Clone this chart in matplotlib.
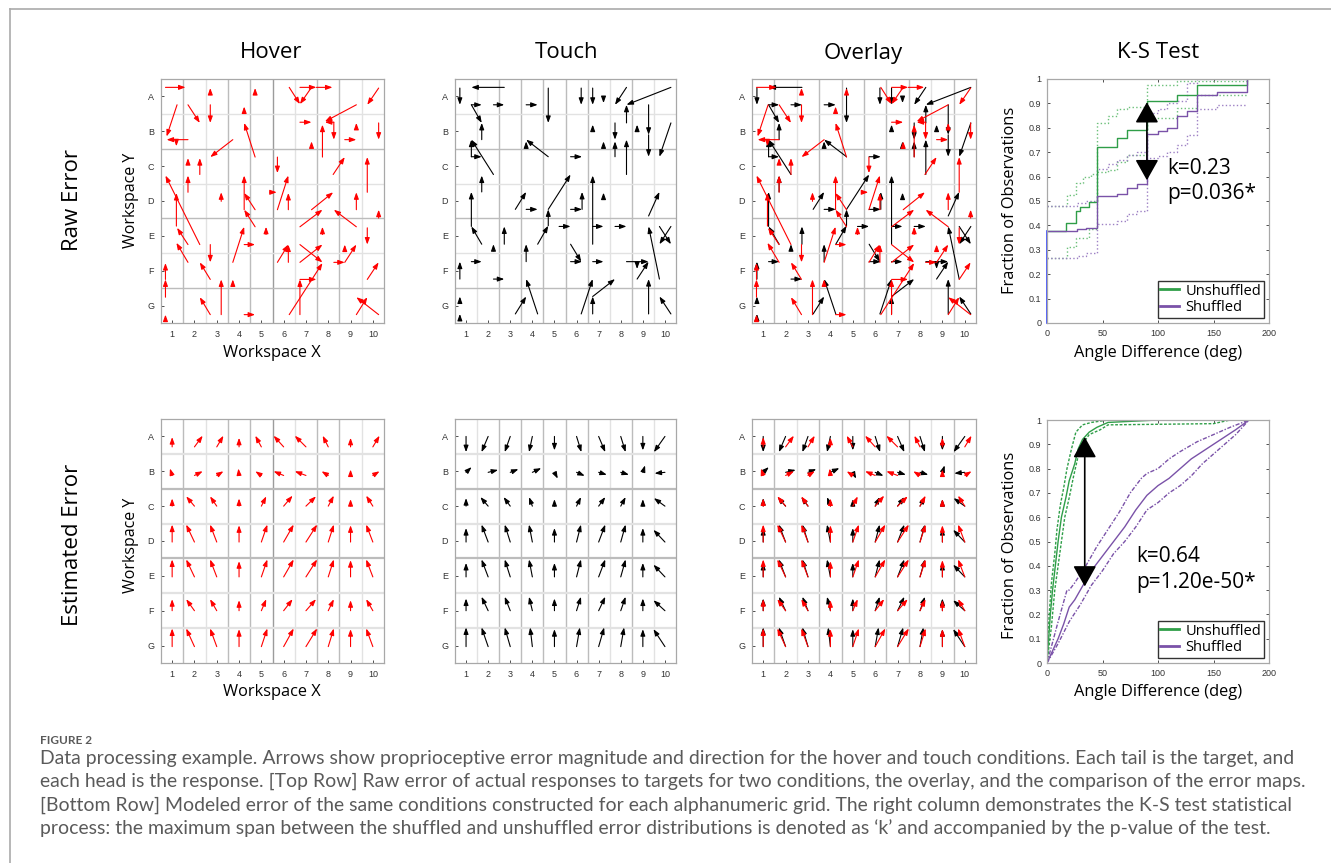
import matplotlib
matplotlib.use('Agg')
import matplotlib.pyplot as plt
from matplotlib import font_manager

# ---------------- data ----------------
cols = list(range(1, 11))
rows = ['A', 'B', 'C', 'D', 'E', 'F', 'G']

# raw error arrows (tail x, tail y, head x, head y), y = row index (A=1 ... G=7)
hover_raw = [
    (0.70, 0.74, 1.60, 0.74), (2.71, 0.95, 2.71, 0.76), (4.72, 0.95, 4.72, 0.76),
    (6.25, 0.74, 6.73, 1.22), (7.25, 0.74, 6.73, 1.22), (6.73, 0.74, 7.47, 0.74),
    (7.47, 0.74, 8.19, 0.74), (10.26, 0.76, 9.75, 1.24), (1.22, 1.24, 0.75, 2.15),
    (1.71, 2.24, 0.75, 2.24), (1.19, 2.24, 1.19, 2.43), (1.71, 1.24, 2.24, 1.76),
    (2.71, 1.24, 2.71, 1.76), (4.23, 1.43, 4.23, 1.29), (4.72, 2.74, 4.23, 1.76),
    (6.73, 1.74, 7.25, 1.74), (9.26, 1.24, 7.85, 1.72), (7.74, 2.74, 7.74, 1.81),
    (8.25, 1.74, 7.85, 1.74), (8.25, 1.74, 8.25, 2.24), (9.26, 1.91, 9.26, 1.76),
    (10.26, 1.76, 10.26, 2.24), (8.74, 2.24, 9.26, 2.24), (7.25, 2.43, 7.25, 2.29),
    (3.72, 2.24, 2.71, 2.74), (1.71, 2.91, 1.71, 2.77), (2.24, 3.24, 2.24, 2.77),
    (5.72, 2.74, 5.72, 3.20), (8.22, 3.24, 8.74, 2.74), (9.75, 3.75, 9.75, 2.74),
    (2.24, 5.25, 0.70, 3.27), (1.71, 3.75, 1.71, 3.27), (1.19, 4.72, 1.19, 3.77),
    (1.71, 5.25, 1.22, 4.77), (3.20, 4.01, 3.20, 3.75), (4.23, 4.25, 4.23, 3.27),
    (4.72, 4.25, 4.23, 3.77), (4.72, 4.74, 4.23, 4.25), (5.39, 3.75, 5.69, 3.75),
    (5.72, 4.25, 6.21, 3.27), (6.21, 4.25, 6.21, 3.77), (7.25, 4.25, 8.22, 3.75),
    (9.26, 4.25, 9.26, 3.75), (10.26, 4.49, 10.26, 4.25), (6.73, 4.74, 7.74, 4.25),
    (9.26, 4.74, 8.25, 4.25), (5.21, 4.96, 5.21, 4.74), (7.74, 4.96, 7.74, 4.74),
    (9.75, 4.77, 9.75, 5.25), (3.72, 5.76, 4.23, 4.74), (4.23, 5.25, 4.72, 5.25),
    (1.71, 5.76, 1.19, 5.20), (2.71, 5.25, 2.71, 5.76), (5.72, 5.76, 6.21, 5.25),
    (6.21, 5.76, 6.21, 5.25), (6.73, 5.76, 7.74, 5.25), (6.73, 5.25, 7.74, 5.76),
    (6.25, 7.26, 7.74, 5.78), (8.74, 5.44, 8.74, 5.25), (8.74, 5.76, 9.26, 5.25),
    (8.25, 5.76, 8.74, 5.76), (0.70, 6.76, 0.70, 6.25), (0.70, 6.25, 0.70, 5.78),
    (0.70, 7.40, 0.70, 7.26), (2.71, 6.25, 2.24, 5.76), (3.20, 7.26, 3.20, 6.25),
    (3.72, 6.44, 3.72, 6.25), (9.75, 6.25, 10.26, 5.76), (6.73, 7.26, 6.73, 6.25),
    (6.73, 6.25, 7.47, 6.25), (2.71, 7.26, 2.24, 6.76), (4.23, 7.26, 4.72, 7.26),
    (10.26, 7.26, 9.26, 6.76), (9.26, 7.26, 9.75, 6.76),
]
touch_raw = [
    (2.73, 0.74, 1.24, 0.74), (0.72, 0.76, 0.72, 1.24), (1.24, 1.24, 1.71, 1.24),
    (2.24, 1.24, 2.73, 1.24), (3.72, 1.24, 4.24, 1.24), (1.24, 1.24, 1.71, 1.76),
    (1.71, 2.24, 1.71, 1.76), (4.72, 0.76, 4.72, 1.76), (6.21, 0.76, 6.21, 1.24),
    (6.73, 0.76, 6.73, 1.24), (7.22, 1.05, 7.22, 1.19), (8.26, 0.74, 7.74, 1.24),
    (10.27, 0.74, 8.26, 1.24), (8.26, 1.76, 8.26, 1.24), (6.73, 1.95, 6.73, 1.81),
    (7.74, 1.76, 7.74, 2.24), (7.74, 2.73, 7.74, 2.29), (8.26, 3.24, 8.26, 2.24),
    (7.22, 2.43, 7.22, 2.29), (8.74, 2.00, 8.74, 1.81), (9.26, 1.24, 9.26, 2.10),
    (9.26, 2.10, 9.26, 2.73), (10.27, 1.76, 9.75, 2.73), (2.24, 3.24, 1.24, 2.24),
    (1.24, 2.73, 1.24, 2.24), (1.24, 2.73, 1.71, 2.73), (4.72, 2.73, 3.72, 2.24),
    (3.72, 2.43, 3.72, 2.29), (5.73, 2.73, 6.25, 2.73), (1.71, 3.74, 1.71, 3.27),
    (1.24, 4.73, 1.24, 3.74), (1.71, 5.24, 1.24, 4.73), (3.23, 4.24, 3.72, 3.74),
    (3.72, 4.24, 4.24, 4.24), (4.72, 4.24, 5.73, 3.24), (4.72, 4.71, 4.72, 4.24),
    (4.24, 5.24, 4.72, 4.71), (5.73, 4.24, 6.25, 4.24), (6.25, 4.24, 6.25, 3.74),
    (6.73, 5.24, 6.73, 3.27), (7.22, 3.95, 7.22, 3.76), (9.26, 4.43, 9.75, 3.74),
    (5.21, 4.73, 5.73, 4.73), (6.73, 4.73, 7.22, 4.73), (7.74, 4.73, 8.26, 4.73),
    (2.73, 5.24, 2.73, 4.73), (2.24, 5.43, 2.24, 5.24), (3.72, 5.74, 3.72, 5.24),
    (9.75, 6.24, 9.26, 4.73), (9.75, 4.73, 10.27, 5.24), (10.27, 4.73, 9.75, 5.24),
    (1.24, 5.74, 1.71, 5.74), (5.73, 5.24, 6.21, 5.74), (5.73, 5.74, 6.25, 5.74),
    (6.73, 5.74, 7.22, 5.74), (8.26, 5.74, 9.26, 5.74), (8.74, 5.74, 8.74, 5.95),
    (8.74, 6.24, 9.26, 5.74), (0.72, 6.24, 0.72, 5.74), (2.24, 6.24, 2.73, 6.24),
    (4.24, 7.24, 3.72, 6.24), (3.23, 7.24, 3.72, 6.74), (6.21, 7.24, 6.73, 6.24),
    (6.73, 7.24, 6.73, 6.74), (6.73, 6.74, 7.74, 6.24), (9.26, 7.24, 9.26, 6.24),
    (10.27, 7.24, 9.75, 6.74), (0.72, 6.90, 0.72, 6.74), (0.72, 7.43, 0.72, 7.24),
]

# estimated (modeled) error: per-cell displacement, rows A..G x cols 1..10
hover_off = [0.30, 0.12, 0.0, 0.03, 0.03, 0.0, 0.03]
hover_dx = [
    [0, .37, .30, 0, -.27, -.45, -.50, -.25, 0, .30],
    [-.10, .37, .30, -.03, -.27, -.45, -.50, -.30, 0, .30],
    [0, -.37, -.30, 0, .22, .40, .45, .25, 0, -.30],
    [0, -.37, -.30, 0, .27, .45, .50, .25, 0, -.30],
    [0, -.37, -.30, 0, .27, .45, .50, .25, 0, -.30],
    [0, -.37, -.30, 0, .22, .40, .45, .25, 0, -.30],
    [0, -.37, -.30, 0, .27, .45, .50, .25, 0, -.30],
]
hover_dy = [
    [-.28, -.32, -.32, -.26, -.32, -.32, -.32, -.32, -.26, -.32],
    [-.20, -.12, -.12, -.20, -.12, -.12, -.12, -.12, -.17, -.12],
    [-.22, -.28, -.28, -.22, -.28, -.30, -.28, -.30, -.20, -.30],
    [-.50, -.50, -.50, -.48, -.50, -.50, -.50, -.50, -.48, -.50],
    [-.50, -.50, -.50, -.45, -.50, -.50, -.50, -.50, -.48, -.50],
    [-.33, -.33, -.33, -.30, -.33, -.33, -.33, -.33, -.30, -.33],
    [-.52, -.52, -.52, -.50, -.52, -.52, -.52, -.52, -.50, -.52],
]
touch_off = [0.0, 0.03, 0.0, 0.03, 0.03, 0.0, 0.03]
touch_dx = [
    [0, -.30, -.25, -.15, 0, .22, .30, .22, 0, -.50],
    [.25, .45, .37, .40, .15, .37, .37, .37, .10, -.47],
    [0, -.35, -.30, -.15, 0, .20, .30, .22, 0, -.50],
    [0, -.30, -.25, -.15, 0, .20, .30, .22, 0, -.52],
    [0, -.30, -.25, -.15, 0, .20, .30, .22, 0, -.52],
    [0, -.30, -.25, -.15, 0, .20, .30, .22, 0, -.52],
    [0, -.30, -.25, -.10, 0, .15, .25, .15, 0, -.52],
]
touch_dy = [
    [.45, .45, .45, .45, .40, .45, .45, .45, .40, .45],
    [-.15, -.07, -.09, -.12, .18, .10, .07, .07, -.20, .03],
    [-.23, -.26, -.26, -.26, -.20, -.26, -.26, -.26, -.20, -.23],
    [-.40, -.50, -.50, -.50, -.40, -.50, -.50, -.50, -.40, -.35],
    [-.40, -.50, -.50, -.50, -.40, -.50, -.50, -.50, -.40, -.35],
    [-.35, -.40, -.40, -.40, -.35, -.40, -.40, -.40, -.35, -.30],
    [-.55, -.55, -.55, -.55, -.50, -.55, -.55, -.55, -.50, -.50],
]

# K-S test, raw error (step ECDFs)
ks1_g_x = [0, 17, 26, 30, 38, 45, 63, 72, 90, 117, 135, 180]
ks1_g_y = [0.375, 0.41, 0.46, 0.475, 0.495, 0.72, 0.76, 0.79, 0.91, 0.935, 0.975, 1.0]
ks1_gu_x = [0, 18, 26, 32, 40, 45, 55, 63, 72, 90, 117, 180]
ks1_gu_y = [0.48, 0.525, 0.575, 0.60, 0.61, 0.82, 0.85, 0.875, 0.885, 0.975, 0.99, 1.0]
ks1_gl_x = [0, 18, 26, 38, 45, 55, 63, 72, 90, 117, 135, 180]
ks1_gl_y = [0.265, 0.31, 0.35, 0.385, 0.62, 0.625, 0.66, 0.69, 0.84, 0.88, 0.935, 0.935]
ks1_p_x = [0, 27, 35, 45, 63, 72, 81, 90, 100, 108, 117, 126, 135, 153, 180]
ks1_p_y = [0.375, 0.385, 0.39, 0.52, 0.53, 0.555, 0.57, 0.775, 0.785, 0.80, 0.85, 0.87, 0.935, 0.945, 1.0]
ks1_pu_x = [0, 27, 35, 45, 55, 63, 72, 81, 90, 100, 108, 117, 126, 135, 180]
ks1_pu_y = [0.48, 0.49, 0.50, 0.63, 0.65, 0.67, 0.69, 0.70, 0.86, 0.875, 0.90, 0.91, 0.985, 1.0, 1.0]
ks1_pl_x = [0, 27, 35, 45, 63, 72, 81, 90, 100, 108, 117, 126, 135, 153, 180]
ks1_pl_y = [0.265, 0.275, 0.285, 0.405, 0.42, 0.445, 0.46, 0.675, 0.685, 0.70, 0.73, 0.77, 0.875, 0.895, 0.895]

# K-S test, estimated error
ks2_g_x = [0, 3, 5, 8, 10, 13, 17, 20, 25, 28, 32, 38, 45, 55, 100, 180]
ks2_g_y = [0, 0.2, 0.3, 0.42, 0.5, 0.6, 0.68, 0.75, 0.82, 0.88, 0.92, 0.95, 0.97, 0.99, 1.0, 1.0]
ks2_gu_x = [0, 2, 4, 7, 9, 12, 15, 18, 22, 26, 32, 40, 55, 180]
ks2_gu_y = [0.05, 0.2, 0.33, 0.45, 0.55, 0.65, 0.72, 0.8, 0.88, 0.95, 0.98, 0.99, 1.0, 1.0]
ks2_gl_x = [0, 4, 7, 10, 13, 16, 20, 24, 28, 32, 38, 48, 55, 150, 165, 180]
ks2_gl_y = [0, 0.15, 0.3, 0.4, 0.5, 0.6, 0.68, 0.77, 0.85, 0.9, 0.94, 0.96, 0.98, 0.985, 1.0, 1.0]
ks2_p_x = [0, 5, 10, 15, 20, 25, 30, 40, 50, 60, 70, 80, 90, 100, 110, 120, 130, 140, 150, 160, 170, 182]
ks2_p_y = [0, 0.05, 0.1, 0.16, 0.23, 0.26, 0.3, 0.38, 0.44, 0.5, 0.56, 0.63, 0.69, 0.73, 0.76, 0.8, 0.84, 0.87, 0.9, 0.93, 0.96, 1.0]
ks2_pu_x = [0, 10, 18, 20, 25, 35, 45, 55, 65, 75, 85, 90, 100, 110, 120, 135, 150, 165, 182]
ks2_pu_y = [0, 0.17, 0.3, 0.3, 0.33, 0.4, 0.48, 0.55, 0.62, 0.7, 0.76, 0.78, 0.8, 0.84, 0.87, 0.91, 0.94, 0.97, 1.0]
ks2_pl_x = [0, 10, 20, 30, 40, 50, 60, 70, 80, 90, 100, 110, 120, 130, 140, 150, 160, 170, 182]
ks2_pl_y = [0, 0.08, 0.17, 0.24, 0.32, 0.38, 0.45, 0.5, 0.56, 0.63, 0.66, 0.7, 0.73, 0.77, 0.82, 0.86, 0.9, 0.94, 1.0]

caption = [
    "Data processing example. Arrows show proprioceptive error magnitude and direction for the hover and touch conditions. Each tail is the target, and",
    "each head is the response. [Top Row] Raw error of actual responses to targets for two conditions, the overlay, and the comparison of the error maps.",
    "[Bottom Row] Modeled error of the same conditions constructed for each alphanumeric grid. The right column demonstrates the K-S test statistical",
    "process: the maximum span between the shuffled and unshuffled error distributions is denoted as \u2018k\u2019 and accompanied by the p-value of the test.",
]

GREEN = '#2f9e48'
PURPLE = '#7a52a8'
SHADE = {'l': '#e2e2e2', 'm': '#bcbcbc', 'd': '#9c9c9c'}
LABEL_FONT = ['Open Sans', 'DejaVu Sans']
TICK_FONT = ['Liberation Sans', 'DejaVu Sans']

W, H = 1331, 863
fig = plt.figure(figsize=(W / 100, H / 100), dpi=100)


def px_axes(left, top, right, bottom):
    return fig.add_axes([left / W, 1 - bottom / H, (right - left) / W, (bottom - top) / H])


def arrow(ax, x0, y0, x1, y1, color, ms=7):
    ax.annotate('', xy=(x1, y1), xytext=(x0, y0),
                arrowprops=dict(arrowstyle='-|>,head_length=0.55,head_width=0.2',
                                color=color, lw=0.8, shrinkA=0, shrinkB=0,
                                mutation_scale=ms))


def grid_panel(ax, vshade, hshade, hlw):
    ax.set_xlim(0.5, 10.5)
    ax.set_ylim(7.5, 0.5)
    for i, s in enumerate(vshade):
        ax.axvline(i + 1.5, color=SHADE[s], lw=1, zorder=0)
    for j, s in enumerate(hshade):
        ax.axhline(j + 1.5, color=SHADE[s], lw=hlw, zorder=0)
    ax.set_xticks(cols)
    ax.set_yticks(range(1, 8))
    ax.set_yticklabels(rows)
    ax.tick_params(direction='in', length=2.5, width=0.6, labelsize=6.5,
                   colors='#333333', pad=5)
    for t in ax.get_xticklabels() + ax.get_yticklabels():
        t.set_family(TICK_FONT)
    for sp in ax.spines.values():
        sp.set_color('#a8a8a8')
        sp.set_linewidth(0.9)


def raw_panel(ax, sets):
    for data, color in sets:
        for x0, y0, x1, y1 in data:
            arrow(ax, x0, y0, x1, y1, color)


def est_panel(ax, sets):
    for off, dx, dy, color in sets:
        for r in range(7):
            for c in range(10):
                x0 = cols[c]
                y0 = r + 1 + off[r]
                arrow(ax, x0, y0, x0 + dx[r][c], y0 + dy[r][c], color, ms=7)


def ks_panel(ax, curves, step):
    for xs, ys, color, ls in curves:
        if step:
            ax.step(xs, ys, where='post', color=color, ls=ls, lw=1.0)
        else:
            ax.plot(xs, ys, color=color, ls=ls, lw=1.0)
    ax.set_xlim(0, 200)
    ax.set_ylim(0, 1)
    ax.set_xticks([0, 50, 100, 150, 200])
    ax.set_yticks([i / 10 for i in range(11)])
    ax.set_yticklabels(['0'] + ['%.1f' % (i / 10) for i in range(1, 10)] + ['1'])
    ax.tick_params(direction='in', length=2.5, width=0.6, labelsize=6.5,
                   colors='#333333', right=True, top=True, pad=4)
    for t in ax.get_xticklabels() + ax.get_yticklabels():
        t.set_family(TICK_FONT)
    for sp in ax.spines.values():
        sp.set_color('#a8a8a8')
        sp.set_linewidth(0.9)
    h1, = ax.plot([], [], color=GREEN, lw=2, label='Unshuffled')
    h2, = ax.plot([], [], color=PURPLE, lw=2, label='Shuffled')
    leg = ax.legend(handles=[h1, h2], loc='lower right',
                    frameon=True, fancybox=False, edgecolor='black',
                    borderpad=0.2, labelspacing=0.1, handlelength=1.3,
                    handletextpad=0.4, borderaxespad=0.35,
                    prop={'family': LABEL_FONT, 'size': 10.5})
    leg.get_frame().set_linewidth(1.0)


def ks_arrow(ax, x, y0, y1):
    ax.annotate('', xy=(x, y1), xytext=(x, y0),
                arrowprops=dict(arrowstyle='<|-|>,head_length=0.8,head_width=0.45',
                                color='black', lw=1.2, shrinkA=0, shrinkB=0,
                                mutation_scale=16))


# ---------------- top row: raw error ----------------
ax = px_axes(161, 79, 384, 323)
grid_panel(ax, 'mlmmdlmml', 'lmlmlm', 1.0)
raw_panel(ax, [(hover_raw, 'red')])

ax = px_axes(455, 79, 676, 323)
grid_panel(ax, 'lmmmmmlml', 'lmlmlm', 1.0)
raw_panel(ax, [(touch_raw, 'black')])

ax = px_axes(752, 79, 976, 323)
grid_panel(ax, 'mlmmmmmlm', 'lmlmlm', 1.0)
raw_panel(ax, [(touch_raw, 'black'), (hover_raw, 'red')])

ax = px_axes(1047, 79, 1269, 323)
ks_panel(ax, [
    (ks1_gu_x, ks1_gu_y, '#6cc07a', ':'), (ks1_gl_x, ks1_gl_y, '#6cc07a', ':'),
    (ks1_pu_x, ks1_pu_y, '#9d80c4', ':'), (ks1_pl_x, ks1_pl_y, '#9d80c4', ':'),
    (ks1_g_x, ks1_g_y, GREEN, '-'), (ks1_p_x, ks1_p_y, PURPLE, '-'),
], step=True)
ax.plot([0, 0], [0, ks1_g_y[0]], color='#3040ff', lw=1.2, clip_on=False)
ks_arrow(ax, 90, 0.585, 0.905)
ax.text(108, 0.635, 'k=0.23', fontsize=15, va='center', family=LABEL_FONT)
ax.text(108, 0.53, 'p=0.036*', fontsize=15, va='center', family=LABEL_FONT)

# ---------------- bottom row: estimated error ----------------
ax = px_axes(161, 419, 384, 663)
grid_panel(ax, 'mlmmdlmml', 'lmlmll', 1.6)
est_panel(ax, [(hover_off, hover_dx, hover_dy, 'red')])

ax = px_axes(455, 419, 676, 663)
grid_panel(ax, 'lmmmmmlml', 'lmlmll', 1.6)
est_panel(ax, [(touch_off, touch_dx, touch_dy, 'black')])

ax = px_axes(752, 419, 976, 663)
grid_panel(ax, 'mlmmmmmlm', 'lmlmll', 1.6)
est_panel(ax, [(touch_off, touch_dx, touch_dy, 'black'),
               (hover_off, hover_dx, hover_dy, 'red')])

ax = px_axes(1047, 420, 1269, 663)
ks_panel(ax, [
    (ks2_gu_x, ks2_gu_y, GREEN, (0, (2, 1.2))), (ks2_gl_x, ks2_gl_y, GREEN, (0, (2, 1.2))),
    (ks2_pu_x, ks2_pu_y, PURPLE, (0, (3, 1.2, 1, 1.2))), (ks2_pl_x, ks2_pl_y, PURPLE, (0, (3, 1.2, 1, 1.2))),
    (ks2_g_x, ks2_g_y, GREEN, '-'), (ks2_p_x, ks2_p_y, PURPLE, '-'),
], step=False)
ks_arrow(ax, 34, 0.315, 0.93)
ax.text(80, 0.44, 'k=0.64', fontsize=15, va='center', family=LABEL_FONT)
ax.text(80, 0.33, 'p=1.20e-50*', fontsize=15, va='center', family=LABEL_FONT)

# ---------------- labels ----------------
for x, t in [(271, 'Hover'), (567, 'Touch'), (863, 'Overlay'), (1158, 'K-S Test')]:
    fig.text(x / W, 1 - 53 / H, t, ha='center', va='center', fontsize=16, family=LABEL_FONT)
for y, t in [(200, 'Raw Error'), (545, 'Estimated Error')]:
    fig.text(72 / W, 1 - y / H, t, ha='center', va='center', rotation=90,
             fontsize=16, family=LABEL_FONT)
for y in (200, 545):
    fig.text(131 / W, 1 - y / H, 'Workspace Y', ha='center', va='center', rotation=90,
             fontsize=11.5, family=LABEL_FONT)
    fig.text(1010 / W, 1 - y / H, 'Fraction of Observations', ha='center', va='center',
             rotation=90, fontsize=11.8, family=LABEL_FONT)
for y in (353, 692):
    fig.text(272 / W, 1 - y / H, 'Workspace X', ha='center', va='center',
             fontsize=11.8, family=LABEL_FONT)
    fig.text(1158 / W, 1 - y / H, 'Angle Difference (deg)', ha='center', va='center',
             fontsize=11.8, family=LABEL_FONT)

# page frame
fig.add_artist(plt.Line2D([10 / W, 1], [1 - 9 / H, 1 - 9 / H], color='#aaaaaa', lw=1.2))
fig.add_artist(plt.Line2D([10 / W, 10 / W], [0, 1 - 9 / H], color='#aaaaaa', lw=1.2))

# caption
avail = {f.name for f in font_manager.fontManager.ttflist}
cap_font = [f for f in ['Liberation Sans Narrow', 'Lato', 'Open Sans'] if f in avail] + ['DejaVu Sans']
fig.text(40 / W, 1 - 740 / H, 'FIGURE 2', ha='left', va='center', fontsize=8.5,
         color='#5a5a5a', weight='bold', family=cap_font)
renderer = fig.canvas.get_renderer()
probe = fig.text(0, 0, caption[0], fontsize=12, family=cap_font)
width = probe.get_window_extent(renderer=renderer).width
probe.remove()
cap_size = 12 * 1250 / width
for i, line in enumerate(caption):
    fig.text(40 / W, 1 - (758 + 23.5 * i) / H, line, ha='left', va='center',
             fontsize=cap_size, color='#5a5a5a', family=cap_font)

fig.savefig('out.png', dpi=100)
